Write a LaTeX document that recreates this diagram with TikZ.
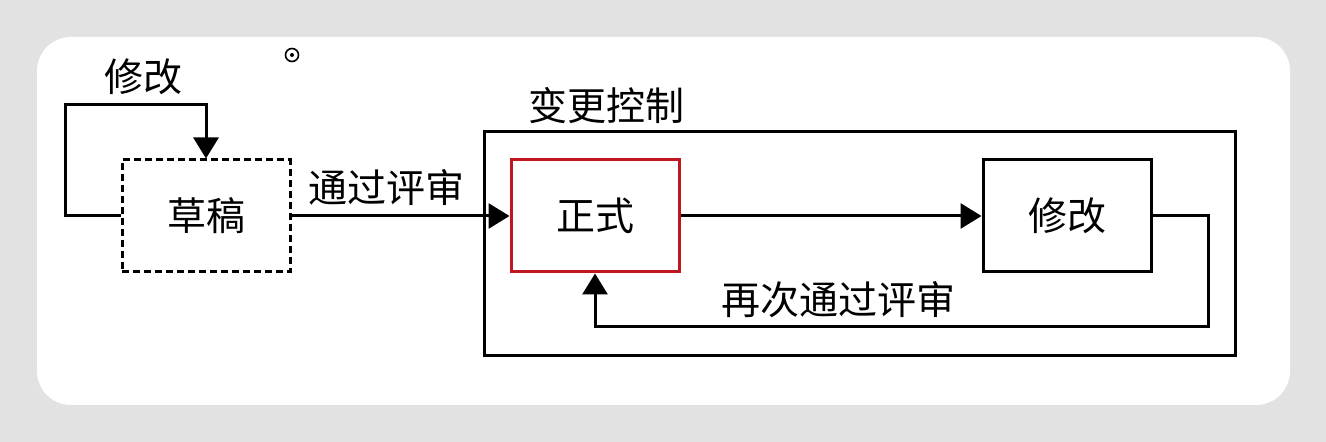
\documentclass[tikz,border=0pt]{standalone}
\usepackage{fontspec}
\setmainfont{Noto Sans CJK SC}
\usetikzlibrary{arrows.meta}
\definecolor{formalred}{RGB}{192,22,32}
\definecolor{bggray}{RGB}{226,226,226}
\tikzset{
	box/.style={draw, line width=1.5pt, minimum width=84pt, minimum height=56pt, inner sep=0pt, font=\fontsize{19.5}{20}\selectfont},
	lbl/.style={font=\fontsize{19.5}{20}\selectfont, inner sep=0pt},
	arr/.style={-{Triangle[length=10.5pt,width=12.5pt]}, line width=1.5pt},
}
\begin{document}
\begin{tikzpicture}[x=0.5pt,y=-0.5pt]
	% nen
	\fill[bggray] (0,0) rectangle (1326,442);
	\fill[white, rounded corners=17pt] (37,37) rectangle (1290,405);
	\useasboundingbox (0,0) rectangle (1326,442);
	% con tro chuot
	\draw[line width=0.8pt] (292,55) circle (6.5);
	\fill (292,55) circle (2);
	% khung bien canh
	\node[draw, line width=1.5pt, minimum width=375.5pt, minimum height=112pt, inner sep=0pt] (ctrl) at (859.5,244) {};
	\node[lbl] (ctrllbl) at (606,106) {变更控制};
	% cac hop
	\node[box, dash pattern=on 3.5pt off 2pt] (draft) at (206,216) {草稿};
	\node[box, draw=formalred] (formal) at (595,216) {正式};
	\node[box] (edit) at (1067,216) {修改};
	% vong sua ban nhap
	\draw[arr] (draft.west) -| ++(-55,-111) -| (draft.north);
	\node[lbl] (editlbl) at (143,77) {修改};
	% thong qua danh gia
	\draw[arr] (draft.east) -- (formal.west);
	\node[lbl] (passlbl) at (386,188) {通过评审};
	\draw[arr] (formal.east) -- (edit.west);
	% vong danh gia lai
	\draw[arr] (edit.east) -| ++(56,111) -| (formal.south);
	\node[lbl] (repasslbl) at (838,300) {再次通过评审};
\end{tikzpicture}
\end{document}
